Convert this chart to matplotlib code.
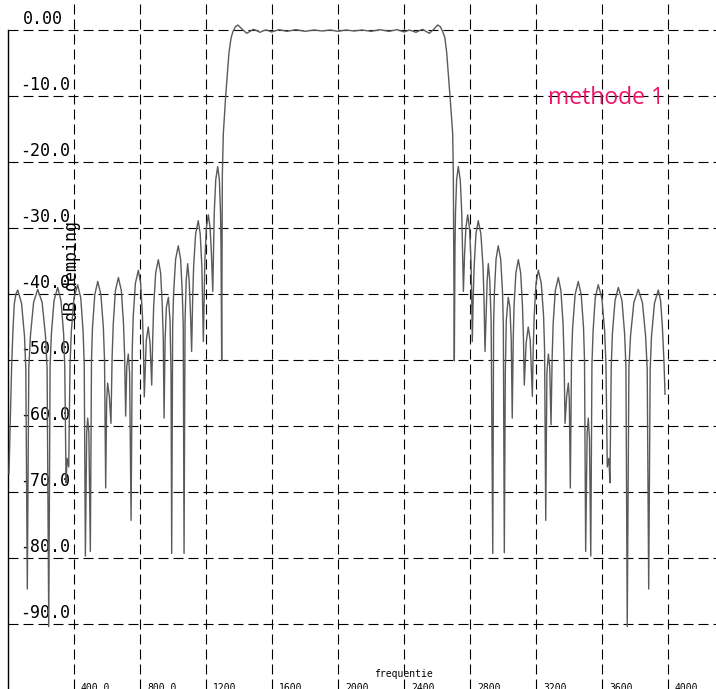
import numpy as np
import matplotlib
matplotlib.use('Agg')
import matplotlib.pyplot as plt
import matplotlib.transforms as mtransforms

# lower stopband (Hz, dB)
stop_low_f = [6, 22, 30, 38, 48, 59, 82, 100, 108, 117, 126, 136, 155, 180, 207, 227, 237, 247,
              255, 263, 279, 301, 321, 337, 344, 352, 358, 368, 376, 384, 400, 422, 441, 455, 462,
              469, 477, 483, 490, 499, 506, 512, 526, 544, 563, 578, 585, 592, 598, 604, 614, 624,
              631, 638, 651, 669, 687, 700, 707, 713, 720, 729, 737, 746, 753, 759, 772, 790, 804,
              815, 821, 826, 838, 850, 861, 871, 877, 883, 895, 911, 925, 935, 941, 946, 952, 960,
              972, 982, 988, 992, 998, 1004, 1016, 1032, 1046, 1056, 1062, 1067, 1073, 1080, 1089,
              1098, 1106, 1113, 1119, 1125, 1137, 1153, 1165, 1175, 1179, 1184, 1189, 1193, 1202,
              1214, 1225, 1233, 1241, 1246, 1250, 1259, 1271, 1281, 1288, 1291, 1295]
stop_low_db = [-67.2, -51.0, -45.5, -41.5, -40.0, -39.4, -41.4, -46.4, -51.4, -84.7, -51.3, -46.3,
               -41.3, -39.3, -41.3, -46.3, -51.3, -90.4, -51.0, -46.0, -41.0, -39.0, -41.0, -46.0,
               -51.0, -68.6, -64.9, -66.2, -50.6, -45.6, -40.6, -38.6, -40.6, -45.6, -50.6, -79.7,
               -61.0, -58.8, -61.0, -79.0, -50.1, -45.1, -40.1, -38.1, -40.1, -45.1, -50.1, -69.4,
               -56.0, -53.5, -55.5, -59.6, -49.5, -44.5, -39.5, -37.5, -39.5, -44.5, -49.5, -58.5,
               -51.0, -49.1, -52.0, -74.3, -48.4, -43.4, -38.4, -36.4, -38.4, -43.4, -48.4, -55.6,
               -47.0, -45.0, -47.5, -53.8, -46.8, -41.8, -36.8, -34.8, -36.8, -41.8, -46.8, -58.8,
               -47.0, -42.0, -40.5, -44.0, -52.0, -79.3, -44.7, -39.7, -34.7, -32.7, -34.7, -39.7,
               -44.7, -79.3, -44.0, -38.0, -35.4, -38.0, -43.0, -48.7, -40.9, -35.9, -30.9, -28.9,
               -30.9, -35.9, -40.9, -47.2, -40.0, -35.0, -30.0, -28.0, -30.0, -34.0, -39.6, -32.7,
               -27.7, -22.7, -20.7, -22.7, -27.7, -33.0, -50.1]

# passband
pass_f = [1299, 1305, 1319, 1339, 1352, 1363, 1378, 1393, 1420, 1447, 1467, 1487, 1507, 1527,
          1548, 1568, 1598, 1642, 1691, 1745, 1800, 1855, 1903, 1952, 2000, 2048, 2097, 2145,
          2200, 2255, 2309, 2358, 2402, 2432, 2473, 2493, 2513, 2533, 2553, 2580, 2604, 2620,
          2635, 2648, 2659, 2679, 2695, 2699]
pass_db = [-22.0, -15.7, -10.1, -3.5, -1.2, -0.25, 0.5, 0.76, 0.1, -0.5, -0.2, 0.1, -0.1, -0.35,
           -0.1, 0.0, -0.3, 0.05, -0.2, 0.05, -0.2, 0.0, -0.15, 0.0, -0.2, 0.0, -0.15, 0.0,
           -0.2, 0.05, -0.2, 0.05, -0.3, 0.0, -0.35, -0.1, 0.1, -0.2, -0.5, 0.1, 0.76, 0.5,
           -0.25, -1.2, -3.5, -10.1, -15.7, -22.0]

# upper stopband
stop_high_f = [2705, 2709, 2712, 2719, 2729, 2741, 2750, 2754, 2760, 2767, 2775, 2786, 2797, 2806,
               2810, 2814, 2819, 2825, 2836, 2850, 2866, 2879, 2885, 2891, 2898, 2904, 2911, 2920,
               2928, 2938, 2943, 2948, 2958, 2971, 2986, 2997, 3002, 3008, 3014, 3020, 3032, 3042,
               3050, 3056, 3062, 3067, 3078, 3093, 3107, 3118, 3124, 3129, 3140, 3153, 3165, 3178,
               3183, 3189, 3200, 3214, 3232, 3246, 3252, 3259, 3266, 3275, 3283, 3291, 3298, 3304,
               3317, 3335, 3351, 3364, 3370, 3376, 3386, 3396, 3402, 3408, 3415, 3422, 3437, 3456,
               3474, 3488, 3494, 3501, 3510, 3517, 3524, 3532, 3539, 3546, 3559, 3577, 3599, 3616,
               3624, 3632, 3642, 3648, 3656, 3663, 3679, 3699, 3721, 3737, 3745, 3753, 3763, 3773,
               3793, 3820, 3845, 3864, 3874, 3883, 3892, 3900, 3918, 3941, 3955, 3966, 3976, 3982]
stop_high_db = [-50.1, -33.0, -27.7, -22.7, -20.7, -22.7, -27.7, -32.7, -39.6, -34.0, -30.0, -28.0,
                -30.0, -35.0, -40.0, -47.2, -40.9, -35.9, -30.9, -28.9, -30.9, -35.9, -40.9, -48.7,
                -43.0, -38.0, -35.4, -38.0, -44.0, -79.3, -44.7, -39.7, -34.7, -32.7, -34.7, -39.7,
                -44.7, -79.2, -52.0, -44.0, -40.5, -42.0, -47.0, -58.8, -46.8, -41.8, -36.8, -34.8,
                -36.8, -41.8, -46.8, -53.8, -47.5, -45.0, -47.0, -55.5, -48.4, -43.4, -38.4, -36.4,
                -38.4, -43.4, -48.4, -74.3, -52.0, -49.1, -51.0, -59.8, -49.5, -44.5, -39.5, -37.5,
                -39.5, -44.5, -49.5, -59.6, -55.5, -53.5, -56.0, -69.4, -50.1, -45.1, -40.1, -38.1,
                -40.1, -45.1, -50.1, -79.0, -61.0, -58.8, -62.0, -79.7, -50.6, -45.6, -40.6, -38.6,
                -40.6, -45.6, -50.6, -66.2, -64.9, -68.6, -51.0, -46.0, -41.0, -39.0, -41.0, -46.0,
                -51.0, -90.4, -51.3, -46.3, -41.3, -39.3, -41.3, -46.3, -51.3, -84.7, -51.4, -46.4,
                -41.4, -39.4, -41.0, -45.0, -50.5, -55.2]

freq_ticks = [400, 800, 1200, 1600, 2000, 2400, 2800, 3200, 3600, 4000]
freq_labels = ['400.0', '800.0', '1200.', '1600.', '2000.', '2400.', '2800.', '3200.',
               '3600.', '4000.']
db_ticks = [0, -10, -20, -30, -40, -50, -60, -70, -80, -90]
db_labels = ['0.00', '-10.0', '-20.0', '-30.0', '-40.0', '-50.0', '-60.0', '-70.0',
             '-80.0', '-90.0']

MONO = 'DejaVu Sans Mono'
W, H = 716, 689

freq = np.concatenate([stop_low_f, pass_f, stop_high_f])
damping = np.concatenate([stop_low_db, pass_db, stop_high_db])

fig = plt.figure(figsize=(W / 100, H / 100), dpi=100)
ax = fig.add_axes([8 / W, 0, (W - 8) / W, 1])

ax.plot(freq, damping, color='#5a5a5a', lw=1.0, zorder=3)

# 66 px per 400 Hz and per 10 dB, 0 dB sits 30 px below the top edge
ax.set_xlim(0, (W - 8) * 400 / 66)
ax.set_ylim(-(H - 30) / 6.6, 30 / 6.6)

ax.set_xticks(freq_ticks)
ax.set_yticks(db_ticks)
ax.grid(True, color='black', lw=0.8, linestyle=(0, (9, 4.5)), zorder=1)
ax.tick_params(length=0, labelleft=False, labelbottom=False)
for side in ('top', 'right', 'bottom'):
    ax.spines[side].set_visible(False)
ax.spines['left'].set_bounds(ax.get_ylim()[0], 0)
ax.spines['left'].set_linewidth(1.0)

ytrans = mtransforms.offset_copy(
    mtransforms.blended_transform_factory(ax.transAxes, ax.transData),
    fig=fig, x=0, y=2, units='dots')
for v, lab in zip(db_ticks, db_labels):
    x0 = 15 if v == 0 else 12
    ax.text(x0 / (W - 8), v, lab, transform=ytrans, ha='left', va='bottom',
            family=MONO, fontsize=12, zorder=2)

xtrans = mtransforms.offset_copy(
    mtransforms.blended_transform_factory(ax.transData, ax.transAxes),
    fig=fig, x=7, y=6, units='dots')
for f, lab in zip(freq_ticks, freq_labels):
    ax.text(f, 0, lab, transform=xtrans, ha='left', va='top', family=MONO, fontsize=7)

ax.text(2394, -98.0, 'frequentie', ha='center', va='baseline', family=MONO, fontsize=7)
ax.text(388, -36.5, 'dB demping', rotation=90, ha='center', va='center',
        family=MONO, fontsize=12, zorder=2)
ax.text(3273, -11.2, 'methode 1', color='#ee1166', ha='left', va='baseline',
        family='Open Sans', fontsize=16.5)

fig.savefig('out.png', dpi=100)
